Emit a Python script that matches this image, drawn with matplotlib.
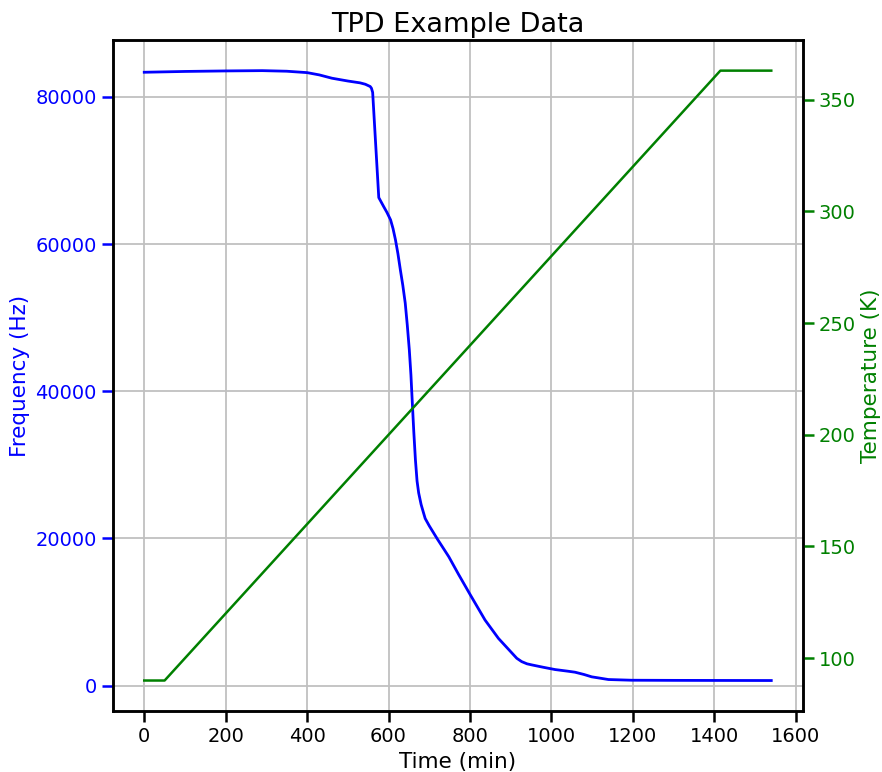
import matplotlib
matplotlib.use("Agg")
from matplotlib import pyplot as plt

# frequency trace (min, Hz)
time_f = [0, 100, 200, 290, 350, 400, 430, 461, 500, 530, 543, 555, 558, 561,
          576, 588, 596, 605, 611, 617, 623, 629, 635, 641, 646, 651, 655, 658,
          662, 666, 670, 674, 680, 686, 690, 700, 720, 748, 772, 800, 837,
          870, 895, 915, 927, 940, 952, 980, 1009, 1040, 1058, 1080, 1099, 1115,
          1140, 1197, 1300, 1400, 1540]
freq = [83340, 83450, 83520, 83560, 83480, 83290, 82980, 82530, 82150, 81900, 81710, 81400, 81170, 80600,
        66310, 65090, 64300, 63280, 62100, 60570, 58700, 56490, 54400, 51970, 49000, 45630, 42200, 38840,
        34500, 30690, 27800, 26170, 24600, 23450, 22700, 21700, 19900, 17500, 15100, 12400, 8900,
        6400, 4900, 3700, 3250, 2950, 2800, 2480, 2170, 1950, 1810, 1500, 1180, 1040,
        815, 720, 700, 690, 680]

# temperature ramp (min, K)
time_t = [0, 50, 1415, 1540]
temp = [90, 90, 363, 363]

plt.figure(figsize=(8.82, 7.72), dpi=100)
ax = plt.gca()
ax.plot(time_f, freq, color="b", linewidth=2.0)
ax.grid(True, color="#c0c0c0", linewidth=1.3)
ax.set_xlabel("Time (min)", fontsize=15.5)
ax.set_ylabel("Frequency (Hz)", color="b", fontsize=15.5)
ax.tick_params(axis="y", colors="b", labelsize=14, width=1.8, length=8)
ax.tick_params(axis="x", labelsize=14, width=1.8, length=8)
ax.set_title("TPD Example Data", fontsize=19.5)

ax2 = ax.twinx()
ax2.plot(time_t, temp, color="g", linewidth=1.8)
ax2.set_ylabel("Temperature (K)", color="g", fontsize=15.5)
ax2.tick_params(axis="y", colors="g", labelsize=14, width=1.8, length=8)

for a in (ax, ax2):
    for s in a.spines.values():
        s.set_linewidth(1.8)

plt.subplots_adjust(left=0.128, right=0.910, top=0.948, bottom=0.079)
plt.savefig("out.png")
